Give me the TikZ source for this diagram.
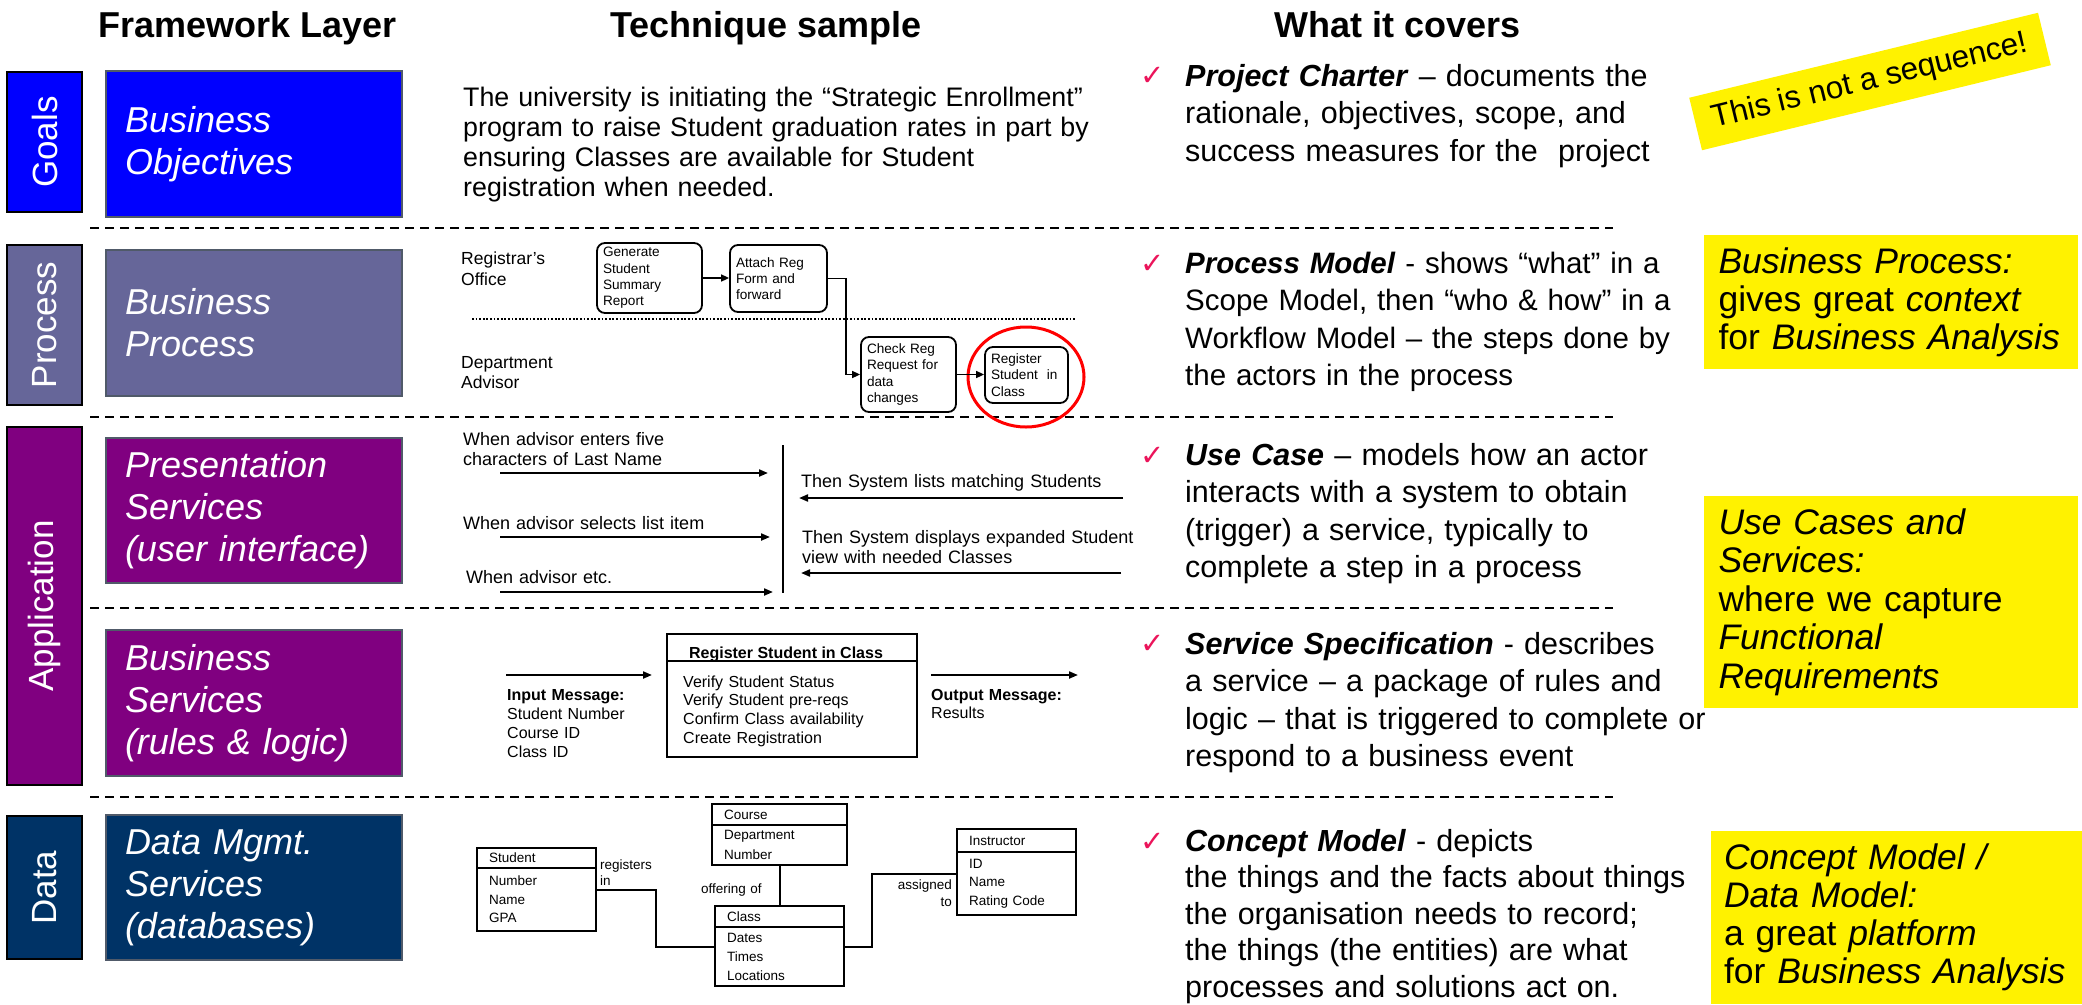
\documentclass[tikz,border=0pt]{standalone}
\usepackage{fontspec}
\setmainfont{Liberation Sans}
\newfontfamily\tickfont{DejaVu Sans}
\usetikzlibrary{arrows.meta,positioning,shapes.geometric}

\definecolor{goalblue}{RGB}{0,0,255}
\definecolor{procslate}{RGB}{102,102,153}
\definecolor{apppurple}{RGB}{128,0,128}
\definecolor{datanavy}{RGB}{0,51,102}
\definecolor{rimgray}{RGB}{80,90,105}
\definecolor{tickpink}{RGB}{235,20,90}

\newcommand{\fsz}[2]{\fontsize{#1}{#2}\selectfont}

\tikzset{
  layer/.style={draw=black, line width=2.5pt, rotate=90, text=white,
    minimum height=75pt, inner sep=0pt, font=\fsz{35}{40}},
  svc/.style={draw=rimgray, line width=2pt, text=white, align=left,
    text width=258pt, inner xsep=19pt, font=\fsz{36}{42}\itshape},
  sepline/.style={line width=2pt, dash pattern=on 9pt off 6pt},
  colhead/.style={anchor=base, inner sep=0pt, font=\fsz{36}{40}\bfseries},
  txt/.style={anchor=base west, inner sep=0pt, align=left, text width=#1},
  actbox/.style={draw, line width=1.8pt, rounded corners=8pt, align=left,
    inner xsep=6pt, inner ysep=0pt, text width=#1, font=\fsz{13.6}{16.3}},
  flow/.style={-{Triangle[length=8pt,width=7pt]}, line width=1.6pt},
  msg/.style={-{Triangle[length=9pt,width=7pt]}, line width=2pt},
  entity/.style={draw, line width=2pt, outer sep=0pt, align=left,
    inner xsep=12pt, inner ysep=0pt, text width=#1, font=\fsz{13.5}{18.5}},
  rel/.style={line width=2pt},
  tickmark/.style={anchor=base west, inner sep=0pt, text=tickpink,
    font=\tickfont\fsz{29}{29}},
  cover/.style={txt=540pt, font=\fsz{30.5}{37.5}},
  note/.style={fill=yellow, align=left, inner xsep=14.5pt, text width=345pt,
    font=\fsz{35.5}{38}}
}

\begin{document}
\begin{tikzpicture}[x=1pt, y=-1pt]
  \useasboundingbox (0,0) rectangle (2082,1004);

  % column headings
  \node[colhead] (hlayer) at (247.5,37) {Framework Layer};
  \node[colhead] (htech) at (766,37) {Technique sample};
  \node[colhead] (hcover) at (1398,37) {What it covers};

  % layer tabs
  \node[layer, fill=goalblue, minimum width=140pt] (goals) at (44.5,142) {Goals};
  \node[layer, fill=procslate, minimum width=160pt] (proc) at (44.5,325) {Process};
  \node[layer, fill=apppurple, minimum width=358pt] (app) at (44.5,606) {Application};
  \node[layer, fill=datanavy, minimum width=143pt] (data) at (44.5,887.5) {Data};

  % framework layers
  \node[svc, fill=goalblue, minimum height=146pt] (objectives) at (254,144) {Business\\Objectives};
  \node[svc, fill=procslate, minimum height=146pt] (bizproc) at (254,323) {Business\\Process};
  \node[svc, fill=apppurple, minimum height=145pt] (present) at (254,510.5) {Presentation\\Services\\(user interface)};
  \node[svc, fill=apppurple, minimum height=146pt] (bizsvc) at (254,703) {Business\\Services\\(rules \& logic)};
  \node[svc, fill=datanavy, minimum height=145pt] (datamgmt) at (254,887.5) {Data Mgmt.\\Services\\(databases)};

  % row separators
  \foreach \y in {228,417,608,797}
    \draw[sepline] (90,\y) -- (1613,\y);

  % goals sample
  \node[txt=680pt, font=\fsz{26.8}{30}] (initiative) at (463,106) {The university is initiating the “Strategic Enrollment”\\program to raise Student graduation rates in part by\\ensuring Classes are available for Student\\registration when needed.};

  % process sample
  \node[txt=120pt, font=\fsz{17.5}{21}] (registrar) at (461,264) {Registrar's\\Office};
  \node[txt=120pt, font=\fsz{17.5}{20}] (advisor) at (461,368) {Department\\Advisor};
  \draw[line width=1.8pt, dash pattern=on 1.8pt off 1.8pt] (472,319) -- (1076,319);
  \node[actbox=93pt, minimum height=70pt] (gen) at (649.5,278) {Generate\\Student\\Summary\\Report};
  \node[actbox=85pt, minimum height=67pt] (attach) at (778.5,278.5) {Attach Reg\\Form and\\forward};
  \node[actbox=83pt, minimum height=75pt] (check) at (908.5,374.5) {Check Reg\\Request for\\data\\changes};
  \node[actbox=71pt, minimum height=56pt] (enrol) at (1026.5,375) {Register\\Student~ in\\Class};
  \node[draw=red, line width=3pt, ellipse, minimum width=116pt, minimum height=100pt] (ring) at (1026,377) {};
  \draw[flow] (gen.east) -- (gen.east -| attach.west);
  \draw[flow] (attach.east) -- ++(18,0) |- (check.west);
  \draw[flow] (check.east) -- (check.east -| enrol.west);

  % use case sample
  \node[txt=300pt, font=\fsz{18}{20}] (enter) at (463,445) {When advisor enters five\\characters of Last Name};
  \node[txt=300pt, font=\fsz{18}{20}] (select) at (463,529) {When advisor selects list item};
  \node[txt=300pt, font=\fsz{18}{20}] (etc) at (466,583) {When advisor etc.};
  \node[txt=335pt, font=\fsz{18}{20}] (lists) at (801,487) {Then System lists matching Students};
  \node[txt=335pt, font=\fsz{18}{20}] (shows) at (802,543) {Then System displays expanded Student\\view with needed Classes};
  \coordinate (systop) at (783,445);
  \coordinate (sysbot) at (783,593);
  \draw[line width=2pt] (systop) -- (sysbot);
  \foreach \y/\e [count=\i] in {473/768,537/770,592/773} {
    \coordinate (ask\i) at (500,\y);
    \coordinate (askend\i) at (\e,\y);
    \draw[msg] (ask\i) -- (askend\i);
  }
  \foreach \y/\s/\e [count=\i] in {498/1123/799,573/1121/801} {
    \coordinate (reply\i) at (\s,\y);
    \coordinate (replyend\i) at (\e,\y);
    \draw[msg] (reply\i) -- (replyend\i);
  }

  % service sample
  \coordinate (inA) at (506,675);
  \coordinate (inB) at (652,675);
  \draw[msg] (inA) -- (inB);
  \node[txt=150pt, font=\fsz{16}{19}] (inmsg) at (507,700) {\textbf{Input Message:}\\Student Number\\Course ID\\Class ID};
  \node[draw, line width=2pt, minimum width=250pt, minimum height=123pt, inner sep=0pt] (spec) at (792,695.5) {};
  \draw[line width=2pt] ([yshift=-28pt]spec.north west) -- ([yshift=-28pt]spec.north east);
  \node[anchor=base, inner sep=0pt, font=\fsz{16}{19}\bfseries] (spectitle) at (786,658) {Register Student in Class};
  \node[txt=220pt, font=\fsz{16}{18.7}] (specsteps) at (683,687) {Verify Student Status\\Verify Student pre-reqs\\Confirm Class availability\\Create Registration};
  \coordinate (outA) at (931,675);
  \coordinate (outB) at (1078,675);
  \draw[msg] (outA) -- (outB);
  \node[txt=140pt, font=\fsz{16}{18}] (outmsg) at (931,700) {\textbf{Output Message:}\\Results};

  % data sample
  \node[entity=95pt, minimum height=20pt] (stuhead) at (536.5,858) {Student};
  \node[entity=95pt, minimum height=63pt, below=0pt of stuhead] (stubody) {Number\\Name\\GPA};
  \node[entity=111pt, minimum height=21pt] (crshead) at (779.5,814.5) {Course};
  \node[entity=111pt, minimum height=40pt, below=0pt of crshead, font=\fsz{13.5}{20}] (crsbody) {Department\\Number};
  \node[entity=105pt, minimum height=21pt] (clshead) at (779.5,916.5) {Class};
  \node[entity=105pt, minimum height=59pt, below=0pt of clshead, font=\fsz{13.5}{19}] (clsbody) {Dates\\Times\\Locations};
  \node[entity=95pt, minimum height=23pt] (insthead) at (1016.5,840.5) {Instructor};
  \node[entity=95pt, minimum height=63pt, below=0pt of insthead] (instbody) {ID\\Name\\Rating Code};
  \draw[rel] ([yshift=10pt]stubody.east) -- ++(60,0) |- ([yshift=10pt]clsbody.west);
  \draw[rel] (crsbody.south) -- (clshead.north);
  \draw[rel] ([yshift=10pt]clsbody.east) -- ++(28,0) |- ([yshift=10pt]instbody.west);
  \node[txt=55pt, font=\fsz{13.5}{16}] (regin) at (600,869) {registers\\in};
  \node[txt=70pt, font=\fsz{13.5}{16}] (offer) at (701,893) {offering of};
  \node[anchor=base east, inner sep=0pt, align=right, text width=55pt, font=\fsz{13.5}{17}] (assign) at (952,889) {assigned\\to};

  % what it covers
  \foreach \y [count=\n] in {85,273,465,653,851}
    \node[tickmark] (tick\n) at (1140,\y) {✓};
  \node[cover] (charter) at (1185,86) {\textbf{\textit{Project Charter}} -- documents the\\rationale, objectives, scope, and\\success measures for the~ project};
  \node[cover, font=\fsz{29.5}{37.5}] (procmodel) at (1185,273) {\textbf{\textit{Process Model}} - shows “what” in a\\Scope Model, then “who \& how” in a\\Workflow Model -- the steps done by\\the actors in the process};
  \node[cover] (usecase) at (1185,465) {\textbf{\textit{Use Case}} -- models how an actor\\interacts with a system to obtain\\(trigger) a service, typically to\\complete a step in a process};
  \node[cover] (svcspec) at (1185,654) {\textbf{\textit{Service Specification}} - describes\\a service -- a package of rules and\\logic -- that is triggered to complete or\\respond to a business event};
  \node[cover, font=\fsz{30.5}{36.5}] (concept) at (1185,851) {\textbf{\textit{Concept Model}} - depicts\\the things and the facts about things\\the organisation needs to record;\\the things (the entities) are what\\processes and solutions act on.};

  % yellow remarks
  \node[fill=yellow, rotate=13.7, minimum width=359pt, minimum height=54pt, inner sep=0pt, font=\fsz{31.5}{34}] (seq) at (1870,81.5) {This is not a sequence!};
  \node[note, minimum height=134pt] (bpnote) at (1891,302) {\textit{Business Process:}\\gives great \textit{context}\\for \textit{Business Analysis}};
  \node[note, minimum height=212pt, font=\fsz{35.5}{38.5}] (ucnote) at (1891,602) {\textit{Use Cases and}\\\textit{Services:}\\where we capture\\\textit{Functional}\\\textit{Requirements}};
  \node[note, minimum height=173pt, inner xsep=13pt] (cmnote) at (1896.5,917.5) {\textit{Concept Model /}\\\textit{Data Model:}\\a great \textit{platform}\\for \textit{Business Analysis}};
\end{tikzpicture}
\end{document}
